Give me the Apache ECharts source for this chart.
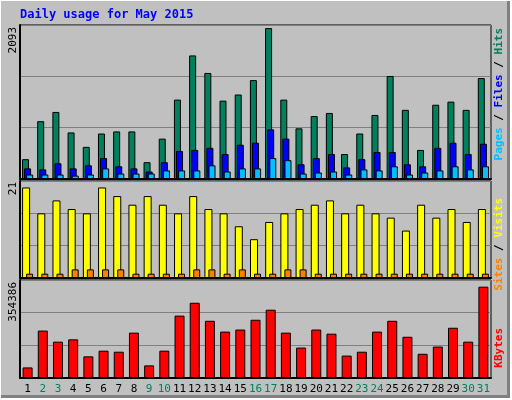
<!DOCTYPE html>
<html><head><meta charset="utf-8">
<script src="https://cdn.jsdelivr.net/npm/echarts@6/dist/echarts.min.js"></script>
<style>
html,body{margin:0;padding:0;background:#fff;}
#c{position:absolute;left:0;top:0;width:512px;height:400px;}
#frame{position:absolute;left:1px;top:1px;width:506px;height:394px;background:#c0c0c0;border-right:3px solid #808080;border-bottom:3px solid #808080;}
</style></head><body>
<div id="frame"></div>
<div id="c"></div>
<script>
const days = ['1','2','3','4','5','6','7','8','9','10','11','12','13','14','15','16','17','18','19','20','21','22','23','24','25','26','27','28','29','30','31'];
const weekend = ['2','3','9','10','16','17','23','24','30','31'];
const hits = [275,802,930,646,446,631,660,660,233,560,1101,1714,1471,1087,1172,1372,2093,1101,703,873,916,346,631,888,1429,959,403,1030,1073,959,1400];
const files = [147,133,218,147,190,290,176,147,104,233,389,403,432,346,475,503,688,560,204,290,346,161,275,375,375,204,176,432,503,346,489];
const pages = [62,62,62,47,62,147,76,76,76,119,119,119,190,104,147,147,290,261,76,90,104,62,133,119,176,62,90,119,176,133,176];
const visits = [21,15,18,16,15,21,19,17,19,17,15,19,16,15,12,9,13,15,16,17,18,15,17,15,14,11,17,14,16,13,16];
const sites = [1,1,1,2,2,2,2,1,1,1,1,2,2,1,2,1,1,2,2,1,1,1,1,1,1,1,1,1,1,1,1];
const kbytes = [41000,184000,141000,150000,84000,106000,102000,176000,49000,106000,242000,292000,222000,180000,188000,226000,265000,176000,118000,188000,172000,87000,102000,180000,222000,160000,94000,122000,195000,141000,354386];
const maxLabels = ['2093','21','354386'];
const title = 'Daily usage for May 2015';

const chart = echarts.init(document.getElementById('c'));
const mono = 'DejaVu Sans Mono';
const grids = [
  {left:20,right:21,top:25,height:154},
  {left:20,right:21,top:181,height:97},
  {left:20,right:21,top:280,height:98}
];
const axMax = [2136, 22.5, 380300];
const xAxes = grids.map((g,i)=>({
  type:'category', gridIndex:i, data:days,
  axisLine:{show:true,lineStyle:{color:'#000',width:2}}, axisTick:{show:false},
  axisLabel:{show:i===2, fontFamily:mono, fontSize:11, margin:6,
    color:(v)=>weekend.includes(v)?'#00805c':'#000', interval:0}
}));
const yAxes = grids.map((g,i)=>({
  type:'value', gridIndex:i, min:0, max:axMax[i], interval:axMax[i]/3,
  axisLabel:{show:false}, axisTick:{show:false},
  axisLine:{show:true,lineStyle:{color:'#000',width:2}},
  splitLine:{show:true,lineStyle:{color:'#808080',width:1}}
}));
const bs = {borderColor:'#000',borderWidth:1};
const series = [
  {type:'bar',xAxisIndex:0,yAxisIndex:0,data:hits,barWidth:7,barGap:'-70%',itemStyle:Object.assign({color:'#00805c'},bs)},
  {type:'bar',xAxisIndex:0,yAxisIndex:0,data:files,barWidth:7,barGap:'-70%',itemStyle:Object.assign({color:'#0000ff'},bs)},
  {type:'bar',xAxisIndex:0,yAxisIndex:0,data:pages,barWidth:7,barGap:'-70%',itemStyle:Object.assign({color:'#00c0ff'},bs)},
  {type:'bar',xAxisIndex:1,yAxisIndex:1,data:visits,barWidth:8,barGap:'-50%',itemStyle:Object.assign({color:'#ffff00'},bs)},
  {type:'bar',xAxisIndex:1,yAxisIndex:1,data:sites,barWidth:7,barGap:'-50%',itemStyle:Object.assign({color:'#ff8000'},bs)},
  {type:'bar',xAxisIndex:2,yAxisIndex:2,data:kbytes,barWidth:10,itemStyle:Object.assign({color:'#ff0000'},bs)}
];
const vt = (x,y,text)=>({type:'text',x:x,y:y,rotation:Math.PI/2,
  style:{text:text,fontFamily:mono,fontSize:11,fill:'#000',align:'right',verticalAlign:'middle'}});
const st = (c)=>({fill:c,fontFamily:mono,fontSize:11,fontWeight:'bold'});
const rt = (x,y,text,rich)=>({type:'text',x:x,y:y,rotation:Math.PI/2,
  style:{text:text,fontFamily:mono,fontSize:11,fontWeight:'bold',align:'right',verticalAlign:'middle',rich:rich}});
chart.setOption({
  animation:false,
  grid:grids.map(g=>Object.assign({show:true,backgroundColor:'#c0c0c0',borderColor:'#000',borderWidth:1},g)),
  xAxis:xAxes, yAxis:yAxes, series:series,
  graphic:[
    {type:'text',left:20,top:9,style:{text:title,fontFamily:mono,fontSize:12,fontWeight:'bold',fill:'#0000ff'}},
    vt(13,27,maxLabels[0]), vt(13,182,maxLabels[1]), vt(13,282,maxLabels[2]),
    rt(499,28,'{p|Pages}{k| / }{f|Files}{k| / }{h|Hits}',{h:st('#00805c'),f:st('#0000ff'),p:st('#00c0ff'),k:st('#000')}),
    rt(499,198,'{s|Sites}{k| / }{v|Visits}',{v:st('#ffff00'),s:st('#ff8000'),k:st('#000')}),
    rt(499,328,'{r|KBytes}',{r:st('#ff0000')})
  ]
});
</script></body></html>
